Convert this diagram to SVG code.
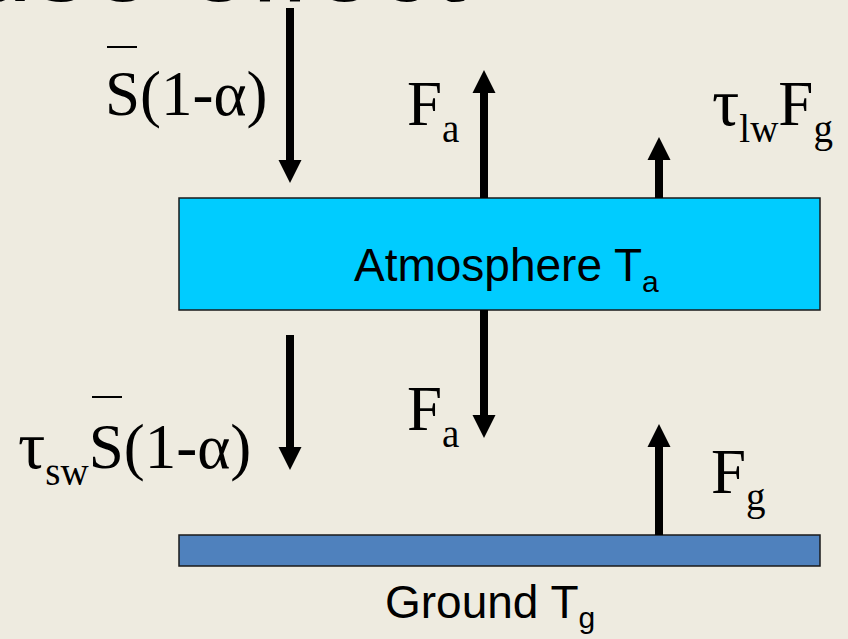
<svg xmlns="http://www.w3.org/2000/svg" width="848" height="639" viewBox="0 0 848 639">
<defs>
<style>
.bg{fill:#EEEBE0}
.tm{font-family:"Liberation Serif","Times New Roman",serif;fill:#000}
.ss{font-family:"Liberation Sans",Arial,sans-serif;fill:#000}
.big{font-size:63px}
.sub{font-size:39px}
.tau{font-size:68px}
.stem{stroke:#000;stroke-width:8;fill:none}
.head{fill:#000}
.bar{stroke:#000;stroke-width:2}
</style>
</defs>
<rect class="bg" x="0" y="0" width="848" height="639"/>
<text class="ss" x="-479" y="1" font-size="115">Greenhouse effect</text>
<g id="atmosphere">
<rect x="179" y="198" width="641" height="112" fill="#00CCFF" stroke="#1a1a1a" stroke-width="1.5"/>
<text class="ss" x="354" y="281" font-size="46">Atmosphere T<tspan font-size="30" dy="11">a</tspan></text>
</g>
<g id="ground">
<rect x="179" y="535" width="641" height="31" fill="#4F81BD" stroke="#1a1a1a" stroke-width="1.5"/>
<text class="ss" x="385" y="618" font-size="46">Ground T<tspan font-size="30" dy="10">g</tspan></text>
</g>
<g id="connectors">
<line class="stem" x1="290" y1="8" x2="290" y2="162"/>
<polygon class="head" points="278.5,160 301.5,160 290,183"/>
<line class="stem" x1="484" y1="198" x2="484" y2="91"/>
<polygon class="head" points="472.5,93 495.5,93 484,70"/>
<line class="stem" x1="659" y1="198" x2="659" y2="158"/>
<polygon class="head" points="647.5,160 670.5,160 659,137"/>
<line class="stem" x1="290" y1="335" x2="290" y2="449"/>
<polygon class="head" points="278.5,447 301.5,447 290,470"/>
<line class="stem" x1="484" y1="310" x2="484" y2="417"/>
<polygon class="head" points="472.5,415 495.5,415 484,438"/>
<line class="stem" x1="659" y1="535" x2="659" y2="445"/>
<polygon class="head" points="647.5,447 670.5,447 659,424"/>
</g>
<g id="label-s-in">
<line class="bar" x1="107" y1="47" x2="137" y2="47"/>
<text class="tm big" x="105" y="115">S(1-α)</text>
</g>
<g id="label-fa-up">
<text class="tm big" x="407" y="125">F<tspan class="sub" dy="17">a</tspan></text>
</g>
<g id="label-tlw">
<text class="tm big" x="712" y="125"><tspan class="tau">τ</tspan><tspan class="sub" dy="17">lw</tspan><tspan dy="-17">F</tspan><tspan class="sub" dy="17">g</tspan></text>
</g>
<g id="label-tsw">
<line class="bar" x1="92" y1="397" x2="122" y2="397"/>
<text class="tm big" x="18" y="468"><tspan class="tau">τ</tspan><tspan class="sub" dy="17">sw</tspan><tspan dy="-17">S(1-α)</tspan></text>
</g>
<g id="label-fa-down">
<text class="tm big" x="407" y="430">F<tspan class="sub" dy="17">a</tspan></text>
</g>
<g id="label-fg">
<text class="tm big" x="711" y="493">F<tspan class="sub" dy="17">g</tspan></text>
</g>
</svg>
